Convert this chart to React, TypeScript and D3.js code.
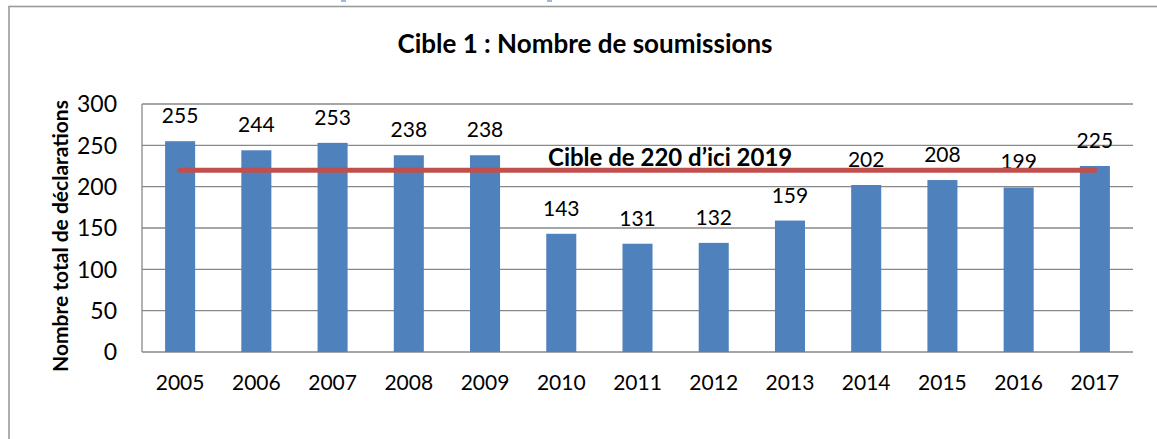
import React from "react";
import * as d3 from "d3";

const years = ["2005","2006","2007","2008","2009","2010","2011","2012","2013","2014","2015","2016","2017"];
const submissions = [255, 244, 253, 238, 238, 143, 131, 132, 159, 202, 208, 199, 225];
const yTicks = [0, 50, 100, 150, 200, 250, 300];
const targetValue = 220;
const targetLabel = "Cible de 220 d\u2019ici 2019";
const title = "Cible 1 : Nombre de soumissions";
const yAxisTitle = "Nombre total de déclarations";

const W = 1157, H = 439;
const plot = { left: 142, right: 1133, top: 104, bottom: 352 };
const FONT = "Lato, 'Open Sans', sans-serif";

export default function App() {
  const x = d3.scaleBand<string>()
    .domain(years)
    .range([plot.left, plot.right])
    .paddingInner(0.606)
    .paddingOuter(0.303);
  const y = d3.scaleLinear().domain([0, 300]).range([plot.bottom, plot.top]);
  const bw = x.bandwidth();
  const first = years[0], last = years[years.length - 1];

  return (
    <svg width={W} height={H} style={{ position: "absolute", left: 0, top: 0, background: "#fff" }}>
      <rect x={0} y={0} width={W} height={H} fill="#fff" />
      {/* fragments of heading above */}
      <rect x={341} y={0} width={5} height={2} fill="#9db8e0" />
      <rect x={547} y={0} width={5} height={2} fill="#9db8e0" />
      {/* outer frame */}
      <rect x={9} y={6.5} width={W + 20} height={H + 20} fill="none" stroke="#9a9a9a" strokeWidth={1.6} />

      <text x={585} y={53} textAnchor="middle" fontFamily={FONT} fontWeight="bold" fontSize={26} fill="#000">{title}</text>

      {/* gridlines */}
      {yTicks.map((t) => (
        <line key={t} x1={plot.left} x2={plot.right} y1={y(t)} y2={y(t)} stroke="#898989" strokeWidth={1.3} />
      ))}
      <line x1={plot.left} x2={plot.left} y1={plot.top} y2={plot.bottom} stroke="#898989" strokeWidth={1.3} />

      {/* y tick labels */}
      {yTicks.map((t) => (
        <text key={"l" + t} x={117} y={y(t)} dy="0.36em" textAnchor="end" fontFamily={FONT} fontSize={23} fill="#000">{t}</text>
      ))}

      <text transform={`translate(68,${(plot.top + plot.bottom) / 2 + 8}) rotate(-90)`} textAnchor="middle"
        fontFamily={FONT} fontWeight="bold" fontSize={21} fill="#000">{yAxisTitle}</text>

      {/* bars */}
      {years.map((yr, i) => (
        <rect key={yr} x={x(yr)} y={y(submissions[i])} width={bw} height={plot.bottom - y(submissions[i])} fill="#4f81bd" />
      ))}

      {/* value labels */}
      {years.map((yr, i) => (
        <text key={"v" + yr} x={(x(yr) as number) + bw / 2} y={y(submissions[i]) - 18} textAnchor="middle"
          fontFamily={FONT} fontSize={21} fill="#000">{submissions[i]}</text>
      ))}

      {/* x labels */}
      {years.map((yr) => (
        <text key={"x" + yr} x={(x(yr) as number) + bw / 2} y={390} textAnchor="middle"
          fontFamily={FONT} fontSize={21} fill="#000">{yr}</text>
      ))}

      {/* target line */}
      <line x1={(x(first) as number) + bw / 2} x2={(x(last) as number) + bw / 2} y1={y(targetValue)} y2={y(targetValue)}
        stroke="#c0504d" strokeWidth={5} strokeLinecap="round" />
      <text x={548} y={165.5} fontFamily={FONT} fontWeight="bold" fontSize={24} fill="#000">{targetLabel}</text>
    </svg>
  );
}
